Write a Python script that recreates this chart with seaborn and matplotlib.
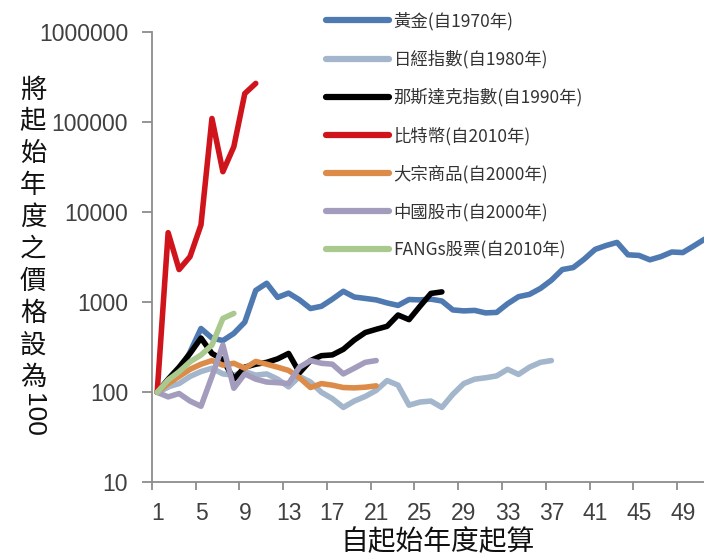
import numpy as np
import pandas as pd
import seaborn as sns
import matplotlib.pyplot as plt

# values, index = years since the start year (1 = start)
gold = [100, 115, 165, 280, 510, 400, 375, 450, 600, 1350,
        1620, 1130, 1260, 1060, 850, 900, 1080, 1320, 1140, 1100,
        1060, 980, 920, 1070, 1060, 1080, 1030, 820, 800, 810,
        760, 770, 960, 1150, 1220, 1420, 1750, 2300, 2420, 3000,
        3850, 4250, 4600, 3350, 3300, 2950, 3200, 3600, 3550, 4200, 5000]
nikkei = [100, 115, 125, 150, 170, 185, 160, 155, 170, 155,
          160, 140, 115, 150, 130, 100, 85, 68, 80, 90,
          105, 135, 120, 72, 78, 80, 68, 95, 125, 140,
          145, 152, 180, 158, 190, 215, 225]
nasdaq = [100, 140, 190, 270, 400, 270, 230, 140, 190, 205,
          215, 235, 270, 165, 225, 255, 260, 300, 380, 460,
          500, 540, 720, 640, 900, 1250, 1300]
bitcoin = [100, 5900, 2300, 3200, 7200, 109000, 28000, 53000, 206000, 267000]
commodities = [100, 125, 150, 180, 205, 225, 200, 210, 185, 220,
               205, 190, 175, 145, 113, 125, 120, 113, 112, 114, 118]
china = [100, 89, 97, 80, 70, 150, 335, 111, 160, 140,
         130, 128, 125, 190, 225, 210, 205, 160, 185, 215, 225]
fangs = [100, 137, 169, 218, 259, 334, 660, 750]

series_names = ['黃金(自1970年)', '日經指數(自1980年)', '那斯達克指數(自1990年)',
                '比特幣(自2010年)', '大宗商品(自2000年)', '中國股市(自2000年)',
                'FANGs股票(自2010年)']
series_values = [gold, nikkei, nasdaq, bitcoin, commodities, china, fangs]
colors = ['#4e79b1', '#a3b6cc', '#000000', '#d0141c', '#dc8c48', '#a49cbd', '#a9c98f']

y_ticks = [10, 100, 1000, 10000, 100000, 1000000]
x_tick_labels = list(range(1, 50, 4))

frames = []
for name, vals in zip(series_names, series_values):
    frames.append(pd.DataFrame({'year': np.arange(1, len(vals) + 1),
                                'value': vals, 'series': name}))
df = pd.concat(frames, ignore_index=True)

sns.set_theme(style='white')
plt.rcParams['font.family'] = ['Noto Sans CJK TC', 'DejaVu Sans']
tick_font = ['Liberation Sans Narrow', 'Liberation Sans', 'DejaVu Sans']

fig = plt.figure(figsize=(7.04, 5.57), dpi=100)
ax = fig.add_axes([0.2155, 0.1338, 0.7845, 0.8093])

for name, color in zip(series_names, colors):
    sub = df[df['series'] == name]
    sns.lineplot(data=sub, x='year', y='value', color=color, lw=4,
                 label=name, ax=ax, solid_joinstyle='round')

ax.set_yscale('log')
ax.set_ylim(10, 1000000)
ax.set_xlim(0.5, 50.94)

ax.set_yticks(y_ticks)
ax.set_yticklabels([str(v) for v in y_ticks], family=tick_font, fontsize=16.5, color='#404040')
ax.yaxis.set_minor_locator(plt.NullLocator())

# ticks sit between categories, labels at the category centres
ax.set_xticks([v - 0.5 for v in x_tick_labels])
ax.set_xticklabels([''] * len(x_tick_labels))
ax.set_xticks(x_tick_labels, minor=True)
ax.set_xticklabels([str(v) for v in x_tick_labels], minor=True,
                   family=tick_font, fontsize=16.5, color='#404040')

ax.tick_params(axis='y', which='major', direction='out', length=7, width=1.3,
               color='#8c8c8c', pad=10, left=True)
ax.tick_params(axis='x', which='major', direction='out', length=6, width=1.3,
               color='#8c8c8c', bottom=True)
ax.tick_params(axis='x', which='minor', length=0, pad=14)

for side in ['top', 'right']:
    ax.spines[side].set_visible(False)
for side in ['left', 'bottom']:
    ax.spines[side].set_color('#8c8c8c')
    ax.spines[side].set_linewidth(1.3)

ax.set_xlabel('')
ax.set_ylabel('')
ax.get_legend().remove()

handles, labels = ax.get_legend_handles_labels()
leg = fig.legend(handles, labels, loc='upper left',
                 bbox_to_anchor=(326 / 704, 1 - 12 / 557),
                 frameon=False, fontsize=12.5, handlelength=3.6,
                 handletextpad=0.3, labelspacing=1.13,
                 borderpad=0, borderaxespad=0)
for line in leg.get_lines():
    line.set_linewidth(4.5)
for t in leg.get_texts():
    t.set_color('#333333')

# stacked vertical y label
ylabel_chars = '將起始年度之價格設為'
for i, ch in enumerate(ylabel_chars):
    fig.text(33 / 704, 1 - (90 + 31.9 * i) / 557, ch, ha='center', va='center',
             fontsize=19, color='#111111')
fig.text(33 / 704, 1 - 415 / 557, '100', ha='center', va='center', rotation=270,
         fontsize=19, family=['Liberation Sans', 'DejaVu Sans'], color='#111111')

fig.text(438 / 704, 1 - 542 / 557, '自起始年度起算', ha='center', va='center',
         fontsize=20, color='#111111')

fig.savefig('out.png', dpi=100)
